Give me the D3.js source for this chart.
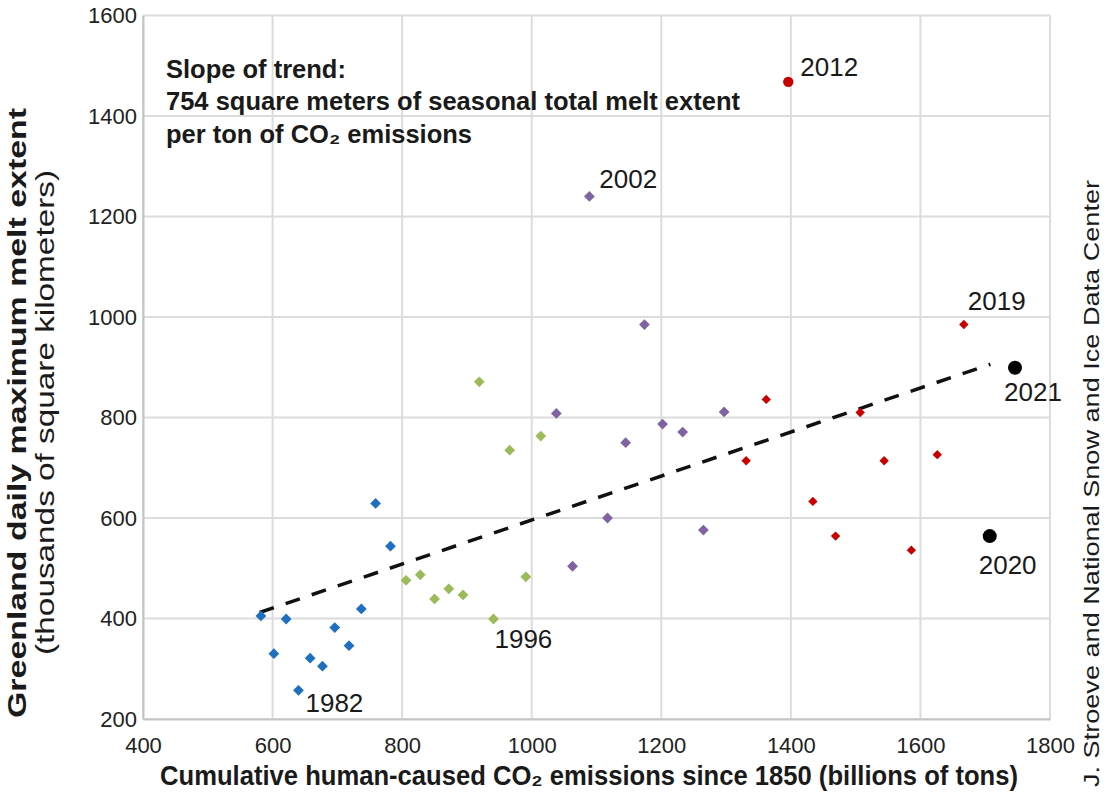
<!DOCTYPE html>
<html><head><meta charset="utf-8">
<script src="https://cdn.jsdelivr.net/npm/d3@7"></script>
<style>
html,body{margin:0;padding:0;background:#fff;}
text{font-family:"Liberation Sans",Arial,sans-serif;}
.narrow{font-family:"Liberation Sans Narrow","Arial Narrow","Liberation Sans",sans-serif;}
</style></head>
<body>
<svg id="chart" width="1108" height="800"></svg>
<script>
// ---- data ----
const years = [1979,1980,1981,1982,1983,1984,1985,1986,1987,1988,1989,
  1990,1991,1992,1993,1994,1995,1996,1997,1998,1999,
  2000,2001,2002,2003,2004,2005,2006,2007,2008,2009,
  2010,2011,2012,2013,2014,2015,2016,2017,2018,2019,
  2020,2021];
const emissions = [582,602,621,640,658,677,696,718,737,759,782,
  806,828,850,872,894,919,941,966,991,1014,
  1038,1063,1089,1117,1145,1174,1202,1233,1265,1297,
  1331,1362,1396,1434,1469,1507,1544,1586,1626,1667,
  1707,1746];
const meltExtent = [405,330,399,257,321,305,382,346,419,629,544,
  476,487,439,459,447,871,399,735,483,763,
  808,504,1240,600,750,985,787,771,576,811,
  714,836,1468,633,564,810,714,536,726,985,
  564,899];
const trendX = [580, 1708];
const trendY = [412, 906];
const xTicks = [400,600,800,1000,1200,1400,1600,1800];
const yTicks = [200,400,600,800,1000,1200,1400,1600];
const labeledYears = [1982,1996,2002,2012,2019,2020,2021];
const labelOffsets = {1982:[7,22],1996:[1,29],2002:[10,-8],2012:[12,-6],2019:[4,-15],2020:[-11,38],2021:[-11,33]};

const svg = d3.select("#chart");
const x = d3.scaleLinear().domain([400,1800]).range([143,1050]);
const y = d3.scaleLinear().domain([200,1600]).range([719,15.5]);

// gridlines
svg.append("g").selectAll("line").data(xTicks).join("line")
  .attr("x1",d=>x(d)).attr("x2",d=>x(d)).attr("y1",y(200)).attr("y2",y(1600))
  .attr("stroke","#dcdcdc").attr("stroke-width",2);
svg.append("g").selectAll("line").data(yTicks).join("line")
  .attr("x1",x(400)).attr("x2",x(1800)).attr("y1",d=>y(d)).attr("y2",d=>y(d))
  .attr("stroke","#dcdcdc").attr("stroke-width",2);

// axes
const xAxis = svg.append("g").attr("transform",`translate(0,${y(200)})`)
  .call(d3.axisBottom(x).tickValues(xTicks).tickSize(0).tickPadding(18).tickFormat(d3.format("d")));
const yAxis = svg.append("g").attr("transform",`translate(${x(400)},0)`)
  .call(d3.axisLeft(y).tickValues(yTicks).tickSize(0).tickPadding(6).tickFormat(d3.format("d")));
[xAxis,yAxis].forEach(a=>{
  a.select(".domain").attr("stroke","#c4c4c4").attr("stroke-width",2);
  a.selectAll("text").attr("font-size",22).attr("fill","#222").attr("font-family","Liberation Sans, Arial, sans-serif");
});

// annotation
const ann = svg.append("text").attr("x",166).attr("font-size",25.5).attr("font-weight","bold").attr("fill","#1a1a1a");
ann.append("tspan").attr("x",166).attr("y",78).text("Slope of trend:");
ann.append("tspan").attr("x",166).attr("y",110).text("754 square meters of seasonal total melt extent");
ann.append("tspan").attr("x",166).attr("y",143).text("per ton of CO\u2082 emissions");

// trend line
svg.append("line")
  .attr("x1",x(trendX[0])).attr("y1",y(trendY[0]))
  .attr("x2",x(trendX[1])).attr("y2",y(trendY[1]))
  .attr("stroke","#111").attr("stroke-width",3.5)
  .attr("stroke-dasharray","15,12.5");

// points
const pts = years.map((yr,i)=>({year:yr,x:emissions[i],y:meltExtent[i]}));
function color(yr){
  if(yr>=2020) return "#000";
  if(yr>=2010) return "#c80000";
  if(yr>=2000) return "#8064a2";
  if(yr>=1990) return "#9bbb59";
  return "#1f6fc0";
}
const diamonds = pts.filter(d=>d.year!==2012 && d.year<2020);
svg.append("g").selectAll("path").data(diamonds).join("path")
  .attr("d",d=>d3.symbol().type(d3.symbolSquare).size(d.year>=2010?44:58)())
  .attr("transform",d=>`translate(${x(d.x)},${y(d.y)}) rotate(45)`)
  .attr("fill",d=>color(d.year));
const circles = pts.filter(d=>d.year===2012 || d.year>=2020);
svg.append("g").selectAll("circle").data(circles).join("circle")
  .attr("cx",d=>x(d.x)).attr("cy",d=>y(d.y))
  .attr("r",d=>d.year===2012?5.2:7)
  .attr("fill",d=>color(d.year));

// year labels
svg.append("g").selectAll("text").data(pts.filter(d=>labeledYears.includes(d.year))).join("text")
  .attr("x",d=>x(d.x)+labelOffsets[d.year][0])
  .attr("y",d=>y(d.y)+labelOffsets[d.year][1])
  .attr("font-size",26).attr("fill","#1a1a1a")
  .text(d=>d.year);

// x axis title
svg.append("text").attr("class","narrow").attr("x",160).attr("y",785)
  .attr("font-size",27).attr("font-weight","bold").attr("fill","#1a1a1a")
  .attr("textLength",858).attr("lengthAdjust","spacingAndGlyphs")
  .text("Cumulative human-caused CO\u2082 emissions since 1850 (billions of tons)");

// y axis titles
svg.append("text").attr("class","narrow")
  .attr("transform","translate(26,718) rotate(-90)")
  .attr("font-size",26).attr("font-weight","bold").attr("fill","#1a1a1a")
  .attr("textLength",610).attr("lengthAdjust","spacingAndGlyphs")
  .text("Greenland daily maximum melt extent");
svg.append("text").attr("class","narrow")
  .attr("transform","translate(54,655) rotate(-90)")
  .attr("font-size",25).attr("fill","#1a1a1a")
  .attr("textLength",485).attr("lengthAdjust","spacingAndGlyphs")
  .text("(thousands of square kilometers)");

// credit
svg.append("text").attr("class","narrow")
  .attr("transform","translate(1099,787) rotate(-90)")
  .attr("font-size",22).attr("fill","#1a1a1a")
  .attr("textLength",607).attr("lengthAdjust","spacingAndGlyphs")
  .text("J. Stroeve and National Snow and Ice Data Center");
</script>
</body></html>
